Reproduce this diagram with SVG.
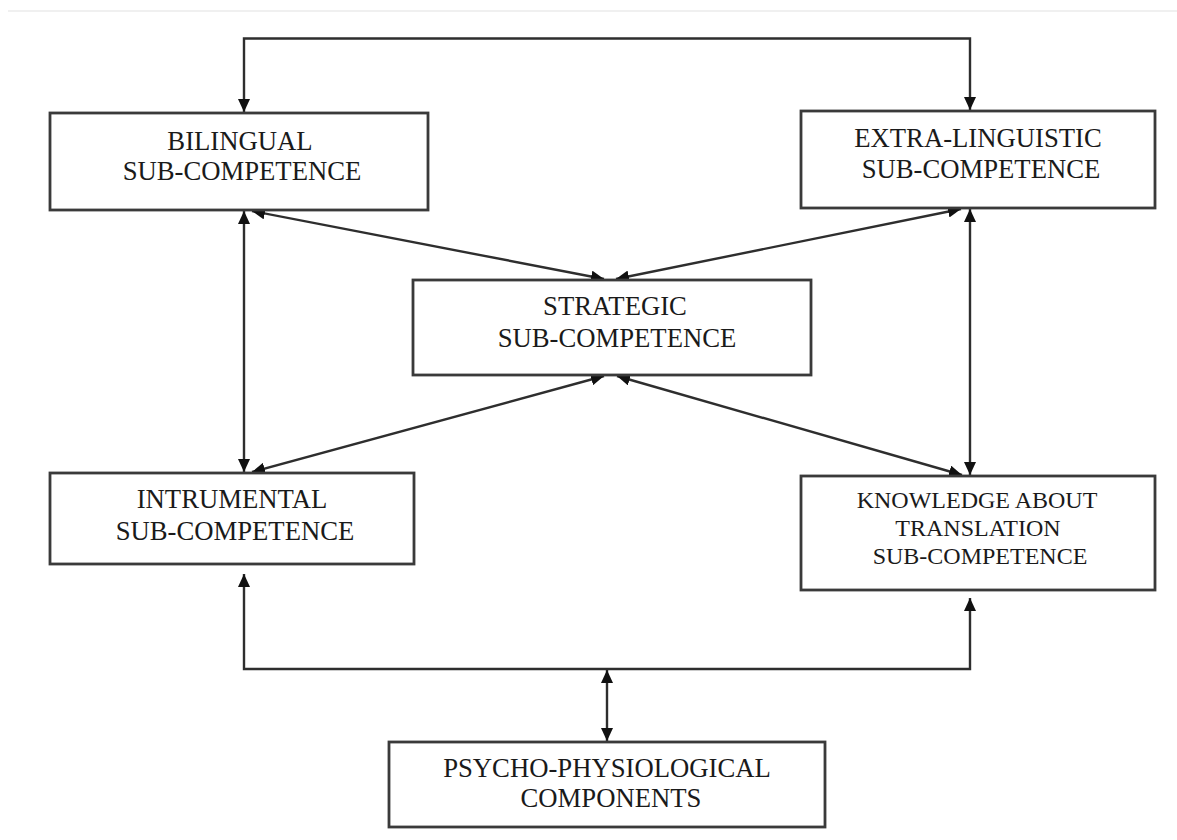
<svg xmlns="http://www.w3.org/2000/svg" width="1177" height="840" viewBox="0 0 1177 840">
<defs>
<style>
.box{fill:#fff;stroke:#3a3a3a;stroke-width:2.8}
.t{font-family:"Liberation Serif","Times New Roman",serif;font-size:26.7px;fill:#1a1a1a;text-anchor:middle}
.s{font-size:24px}
.c{fill:none;stroke:#2e2e2e;stroke-width:2.4;marker-start:url(#ah);marker-end:url(#ah)}
</style>
<marker id="ah" viewBox="0 0 13 12" refX="13" refY="6" markerWidth="13" markerHeight="12" markerUnits="userSpaceOnUse" orient="auto-start-reverse">
<path d="M0,0 L13,6 L0,12 Z" fill="#111"/>
</marker>
</defs>
<rect width="1177" height="840" fill="#fff"/>
<line x1="8" y1="11" x2="1177" y2="11" stroke="#f0f0f0" stroke-width="2"/>
<g id="connectors">
<path class="c" d="M244,112 V38.5 H970 V110"/>
<path class="c" d="M244,211 V472"/>
<path class="c" d="M970,209 V475"/>
<path class="c" d="M252,211 L604,279"/>
<path class="c" d="M961,209 L616,279"/>
<path class="c" d="M604,376 L252,472"/>
<path class="c" d="M617,376 L962,475"/>
<path class="c" d="M244,574 V669 H970 V598"/>
<path class="c" d="M607,670 V741"/>
</g>
<g id="bilingual">
<rect class="box" x="50" y="113" width="378" height="97"/>
<text class="t" x="240" y="150">BILINGUAL</text>
<text class="t" x="242" y="180">SUB-COMPETENCE</text>
</g>
<g id="extra-linguistic">
<rect class="box" x="801" y="111" width="354" height="97"/>
<text class="t" x="978" y="147">EXTRA-LINGUISTIC</text>
<text class="t" x="981" y="178">SUB-COMPETENCE</text>
</g>
<g id="strategic">
<rect class="box" x="413" y="280" width="398" height="95"/>
<text class="t" x="615" y="315">STRATEGIC</text>
<text class="t" x="617" y="347">SUB-COMPETENCE</text>
</g>
<g id="instrumental">
<rect class="box" x="50" y="473" width="364" height="91"/>
<text class="t" x="232" y="508">INTRUMENTAL</text>
<text class="t" x="235" y="540">SUB-COMPETENCE</text>
</g>
<g id="knowledge">
<rect class="box" x="801" y="476" width="354" height="114"/>
<text class="t s" x="977" y="508">KNOWLEDGE ABOUT</text>
<text class="t s" x="978" y="536">TRANSLATION</text>
<text class="t s" x="980" y="564">SUB-COMPETENCE</text>
</g>
<g id="psycho">
<rect class="box" x="389" y="742" width="436" height="85"/>
<text class="t" x="607" y="777">PSYCHO-PHYSIOLOGICAL</text>
<text class="t" x="611" y="807">COMPONENTS</text>
</g>
</svg>
